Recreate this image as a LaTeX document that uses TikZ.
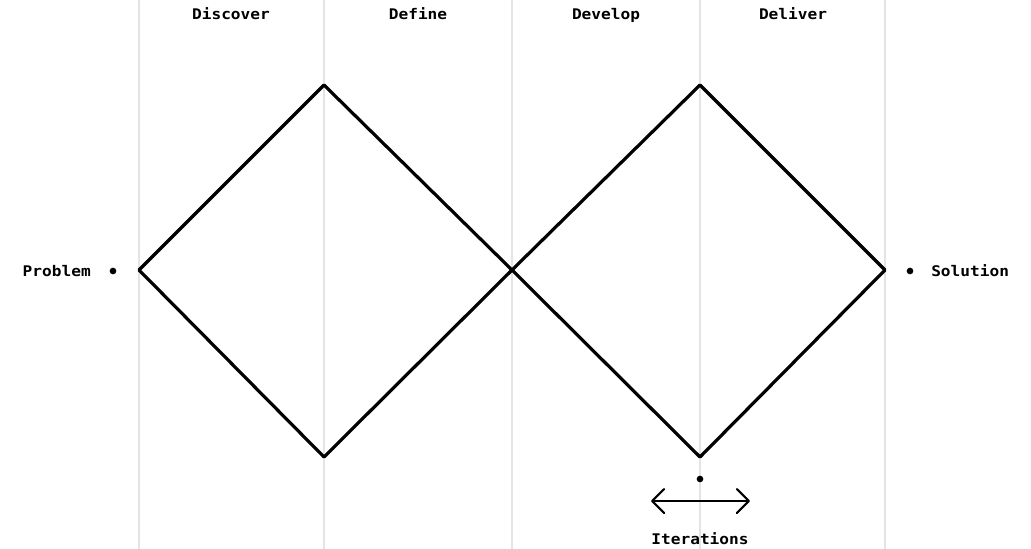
\documentclass[tikz,border=0pt]{standalone}
\usepackage{fontspec}
\setmonofont{DejaVu Sans Mono}[FakeStretch=1.1]
\usetikzlibrary{arrows.meta}
\definecolor{guide}{HTML}{E4E4E4}
\tikzset{
  label/.style={font=\ttfamily\bfseries\fontsize{11}{13}\selectfont, inner sep=0pt, anchor=base},
  guideline/.style={draw=guide, line width=1.5pt},
  diamondline/.style={draw=black, line width=2.4pt, line join=round},
  dot/.style={circle, fill=black, inner sep=0pt, minimum size=5pt},
  twoway/.style={line width=1.6pt, line cap=round,
    arrows={Straight Barb[length=9pt,width=18pt,line cap=round,line join=round]-Straight Barb[length=9pt,width=18pt,line cap=round,line join=round]}},
}
\begin{document}
\begin{tikzpicture}[x=0.75pt, y=-0.75pt]
\useasboundingbox (0,0) rectangle (1031,549);
% phase guides
\foreach \gx in {139,324,512,700,885} \draw[guideline] (\gx,0) -- (\gx,549);
% phase titles
\node[label] (discover) at (231,19.5) {Discover};
\node[label] (define) at (418,19.5) {Define};
\node[label] (develop) at (606,19.5) {Develop};
\node[label] (deliver) at (793,19.5) {Deliver};
% diamond corners
\coordinate (start) at (139,270);
\coordinate (topA) at (324,85);
\coordinate (mid) at (512,270);
\coordinate (botA) at (324,457);
\coordinate (topB) at (700,85);
\coordinate (finish) at (885,270);
\coordinate (botB) at (700,457);
\draw[diamondline] (start) -- (topA) -- (mid) -- (botA) -- cycle;
\draw[diamondline] (mid) -- (topB) -- (finish) -- (botB) -- cycle;
% ends
\node[dot] (pdot) at (113,271) {};
\node[label, anchor=base east] (problem) at (91,276) {Problem};
\node[dot] (sdot) at (910,271) {};
\node[label, anchor=base west] (solution) at (931,276) {Solution};
% iterations
\node[dot] (idot) at (700,479) {};
\coordinate (il) at (651,501);
\coordinate (ir) at (750,501);
\draw[twoway] (il) -- (ir);
\node[label] (iterations) at (700,544) {Iterations};
\end{tikzpicture}
\end{document}
